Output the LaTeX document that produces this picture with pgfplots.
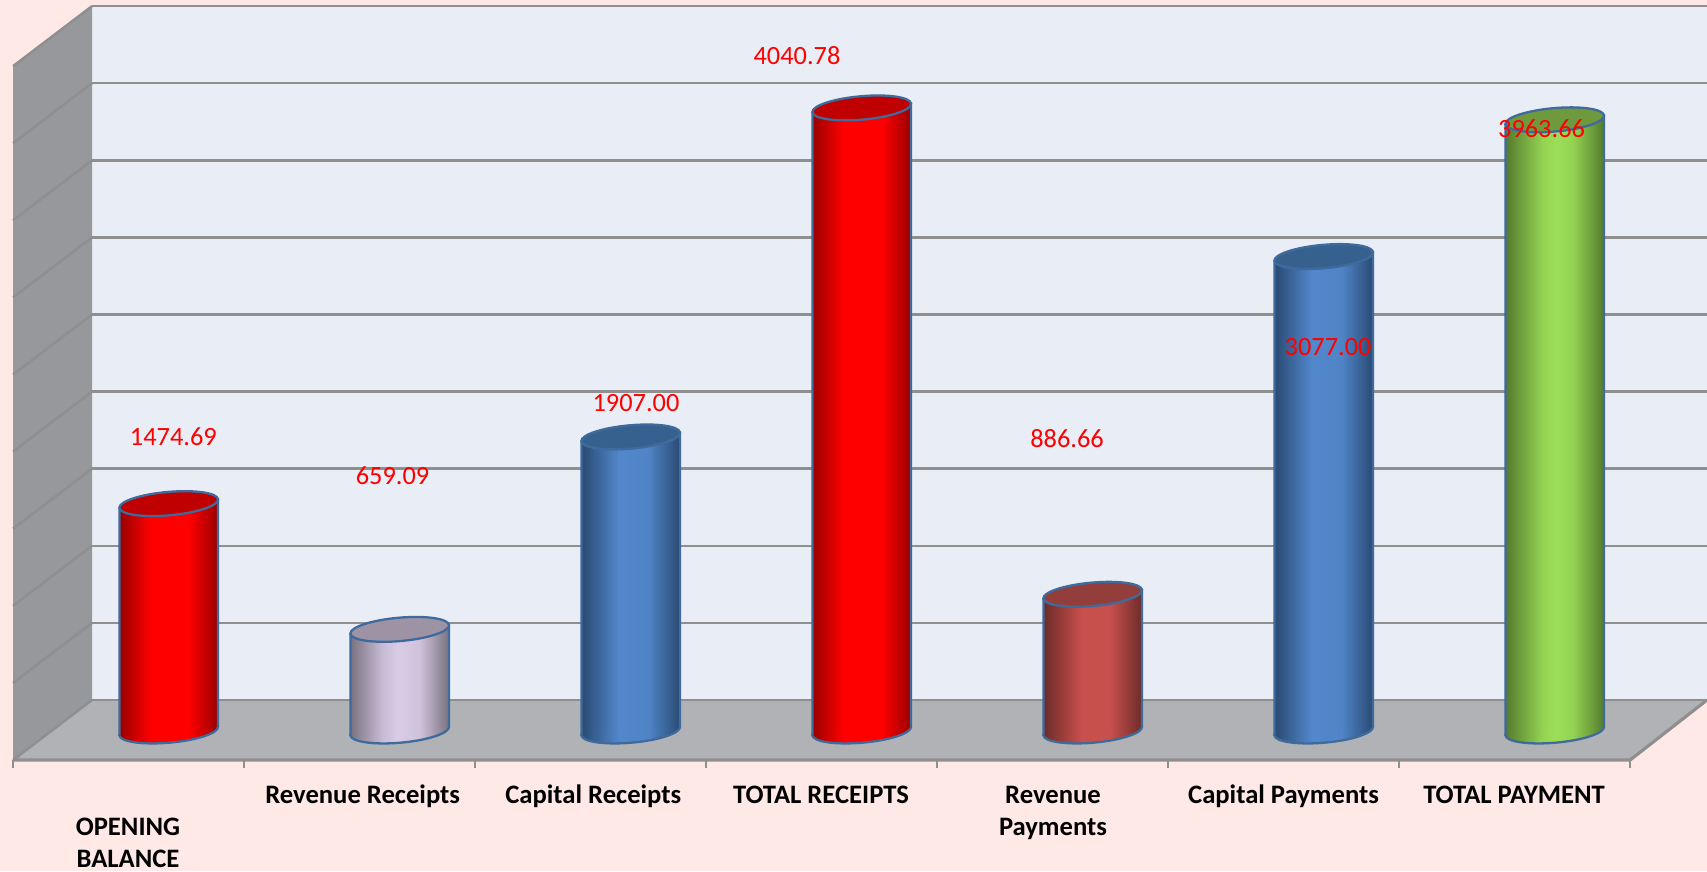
\documentclass[border=0pt]{standalone}
\usepackage{pgfplots}
\pgfplotsset{compat=1.18}
\usepackage{fontspec}
\setmainfont{Carlito}
\definecolor{pagebg}{HTML}{FFE9E7}
\definecolor{wallbg}{HTML}{E9EDF5}
\definecolor{sidewall}{HTML}{97989B}
\definecolor{floorc}{HTML}{B0B2B6}
\definecolor{gridc}{HTML}{8F8F8F}
\definecolor{cylline}{HTML}{3F6A9C}
\pgfdeclarehorizontalshading{shdred}{100bp}{rgb(0bp)=(0.60,0,0); rgb(25bp)=(0.60,0,0); rgb(41bp)=(1,0,0); rgb(60bp)=(1,0,0); rgb(75bp)=(0.60,0,0); rgb(100bp)=(0.60,0,0)}
\pgfdeclarehorizontalshading{shdlil}{100bp}{rgb(0bp)=(0.47,0.45,0.50); rgb(25bp)=(0.47,0.45,0.50); rgb(41bp)=(0.78,0.73,0.83); rgb(49bp)=(0.85,0.80,0.90); rgb(60bp)=(0.82,0.76,0.86); rgb(75bp)=(0.47,0.45,0.50); rgb(100bp)=(0.47,0.45,0.50)}
\pgfdeclarehorizontalshading{shdblu}{100bp}{rgb(0bp)=(0.16,0.29,0.45); rgb(25bp)=(0.16,0.29,0.45); rgb(44bp)=(0.32,0.53,0.80); rgb(59bp)=(0.31,0.52,0.78); rgb(75bp)=(0.16,0.29,0.45); rgb(100bp)=(0.16,0.29,0.45)}
\pgfdeclarehorizontalshading{shdbrn}{100bp}{rgb(0bp)=(0.42,0.17,0.16); rgb(25bp)=(0.42,0.17,0.16); rgb(44bp)=(0.78,0.31,0.30); rgb(59bp)=(0.78,0.31,0.30); rgb(75bp)=(0.42,0.17,0.16); rgb(100bp)=(0.42,0.17,0.16)}
\pgfdeclarehorizontalshading{shdgrn}{100bp}{rgb(0bp)=(0.33,0.48,0.18); rgb(25bp)=(0.33,0.48,0.18); rgb(44bp)=(0.58,0.83,0.32); rgb(51bp)=(0.61,0.87,0.35); rgb(59bp)=(0.58,0.83,0.32); rgb(75bp)=(0.33,0.48,0.18); rgb(100bp)=(0.33,0.48,0.18)}
\newcommand{\capellipse}{\pgfpathellipse{\pgfpointorigin}{\pgfpoint{0.493cm}{0.0431cm}}{\pgfpoint{-0.0102cm}{0.1166cm}}}
\newcommand{\defcap}[2]{%
  \pgfdeclareplotmark{top#1}{\pgfsetlinewidth{0.65pt}\pgfsetstrokecolor{cylline}\pgfsetfillcolor{#2}\capellipse\pgfusepathqfillstroke}%
  \pgfdeclareplotmark{bot#1}{\pgfsetlinewidth{0.65pt}\pgfsetstrokecolor{cylline}\capellipse\pgfshadepath{shd#1}{0}\pgfusepath{stroke}}%
}
\definecolor{capred}{HTML}{C00000}
\definecolor{caplil}{HTML}{9E93A5}
\definecolor{capblu}{HTML}{36618F}
\definecolor{capbrn}{HTML}{933E3B}
\definecolor{capgrn}{HTML}{6E9A3D}
\defcap{red}{capred}
\defcap{lil}{caplil}
\defcap{blu}{capblu}
\defcap{brn}{capbrn}
\defcap{grn}{capgrn}
\newcommand{\cyl}[3]{%
  \pgfmathsetmacro\xl{#1-0.2134}%
  \pgfmathsetmacro\xr{#1+0.2134}%
  \pgfmathsetmacro\vl{#2-29}%
  \pgfmathsetmacro\vr{#2+29}%
  \addplot[only marks,mark=bot#3] coordinates {(#1,0)};
  \addplot[shade,shading=shd#3,draw=cylline,line width=0.65pt] coordinates {(\xl,-29) (\xl,\vl) (\xr,\vr) (\xr,29)};
  \addplot[only marks,mark=top#3] coordinates {(#1,#2)};
}
\begin{document}
\begin{tikzpicture}
\fill[pagebg] (0,0) rectangle (17.07,8.71);
\begin{axis}[
  at={(0cm,1.11cm)},anchor=south west,
  scale only axis,width=17.07cm,height=7.60cm,
  xmin=-0.7303,xmax=6.6593,ymin=-188.07,ymax=4740.6,
  clip=false,clip mode=individual,
  axis line style={draw=none},
  ytick=\empty,
  xtick pos=bottom,tick align=outside,
  xtick={-0.1762,0.8398,1.838,2.824,3.828,4.826,5.824},
  xticklabels={{\strut\\OPENING\\BALANCE},{\strut Revenue Receipts},{\strut Capital Receipts},{\strut TOTAL RECEIPTS},{\strut Revenue\\Payments},{\strut Capital Payments},{\strut TOTAL PAYMENT}},
  major tick length=0pt,
  minor xtick={-0.6736,0.3264,1.3264,2.3264,3.3264,4.3264,5.3264,6.3264},
  minor tick length=0.08cm,
  minor tick style={draw=gridc,line width=0.7pt},
  xticklabel style={align=center,anchor=north,inner sep=0pt,yshift=-0.205cm,font=\bfseries\fontsize{7.58}{9.07}\selectfont,text=black},
]
% walls and floor
\addplot[fill=wallbg,draw=none] coordinates {(-0.332,201) (6.6593,201) (6.6593,4701) (-0.332,4701)} --cycle;
\addplot[fill=sidewall,draw=none] coordinates {(-0.6736,-188.07) (-0.332,201) (-0.332,4701) (-0.6736,4311.93)} --cycle;
\addplot[fill=floorc,draw=none] coordinates {(-0.6736,-188.07) (-0.332,201) (6.6593,201) (6.3264,-188.07)} --cycle;
% back-wall grid lines
\addplot[gridc,line width=0.7pt] coordinates {(-0.332,201) (6.6593,201)};
\addplot[gridc,line width=0.7pt] coordinates {(-0.332,701) (6.6593,701)};
\addplot[gridc,line width=0.7pt] coordinates {(-0.332,1201) (6.6593,1201)};
\addplot[gridc,line width=0.7pt] coordinates {(-0.332,1701) (6.6593,1701)};
\addplot[gridc,line width=0.7pt] coordinates {(-0.332,2201) (6.6593,2201)};
\addplot[gridc,line width=0.7pt] coordinates {(-0.332,2701) (6.6593,2701)};
\addplot[gridc,line width=0.7pt] coordinates {(-0.332,3201) (6.6593,3201)};
\addplot[gridc,line width=0.7pt] coordinates {(-0.332,3701) (6.6593,3701)};
\addplot[gridc,line width=0.7pt] coordinates {(-0.332,4201) (6.6593,4201)};
\addplot[gridc,line width=0.7pt] coordinates {(-0.332,4701) (6.6593,4701)};
% side-wall grid lines
\addplot[gridc,line width=0.7pt] coordinates {(-0.6736,-188.07) (-0.332,201)};
\addplot[gridc,line width=0.7pt] coordinates {(-0.6736,311.93) (-0.332,701)};
\addplot[gridc,line width=0.7pt] coordinates {(-0.6736,811.93) (-0.332,1201)};
\addplot[gridc,line width=0.7pt] coordinates {(-0.6736,1311.93) (-0.332,1701)};
\addplot[gridc,line width=0.7pt] coordinates {(-0.6736,1811.93) (-0.332,2201)};
\addplot[gridc,line width=0.7pt] coordinates {(-0.6736,2311.93) (-0.332,2701)};
\addplot[gridc,line width=0.7pt] coordinates {(-0.6736,2811.93) (-0.332,3201)};
\addplot[gridc,line width=0.7pt] coordinates {(-0.6736,3311.93) (-0.332,3701)};
\addplot[gridc,line width=0.7pt] coordinates {(-0.6736,3811.93) (-0.332,4201)};
\addplot[gridc,line width=0.7pt] coordinates {(-0.6736,4311.93) (-0.332,4701)};
% floor edges
\addplot[gridc,line width=0.9pt] coordinates {(-0.6736,-188.07) (6.3264,-188.07) (6.6593,201)};
% cylinders
\cyl{0}{1474.69}{red}
\cyl{1}{659.09}{lil}
\cyl{2}{1907.00}{blu}
\cyl{3}{4040.78}{red}
\cyl{4}{886.66}{brn}
\cyl{5}{3077.00}{blu}
\cyl{6}{3963.66}{grn}
% data labels
\tikzset{dl/.style={text=red,font=\fontsize{7.5}{9}\selectfont,inner sep=0pt}}
\node[dl] at (axis cs:0.0203,1906.6) {1474.69};
\node[dl] at (axis cs:0.9688,1653.7) {659.09};
\node[dl] at (axis cs:2.0230,2127) {1907.00};
\node[dl] at (axis cs:2.720,4380.7) {4040.78};
\node[dl] at (axis cs:3.889,1893.6) {886.66};
\node[dl] at (axis cs:5.019,2490) {3077.00};
\node[dl] at (axis cs:5.943,3907) {3963.66};
\end{axis}
\pgfresetboundingbox
\path[use as bounding box] (0,0) rectangle (17.07,8.71);
\end{tikzpicture}
\end{document}
